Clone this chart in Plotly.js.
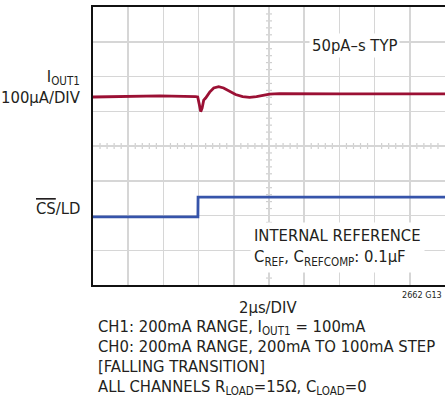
<!DOCTYPE html>
<html>
<head>
<meta charset="utf-8">
<script src="https://cdn.plot.ly/plotly-3.0.1.min.js"></script>
<style>html,body{margin:0;padding:0;background:#fff;}#chart{width:445px;height:410px;}</style>
</head>
<body>
<div id="chart"></div>
<script>
// Time in microseconds (2 µs/DIV, 10 divisions)
const ioutTime = [0, 2.10, 3.80, 5.84, 5.95, 6.03, 6.12, 6.20, 6.29, 6.40, 6.63, 6.86, 7.14, 7.42, 7.76, 8.10, 8.50, 8.90, 9.29, 9.63, 10.03, 10.59, 11.73, 14.00, 16.26, 18.53, 20];
// I_OUT1 trace position in screen divisions (0 = bottom, 8 = top)
const ioutDiv  = [5.41, 5.42, 5.44, 5.42, 5.41, 5.22, 4.99, 5.09, 5.32, 5.38, 5.55, 5.67, 5.71, 5.67, 5.58, 5.48, 5.42, 5.40, 5.42, 5.45, 5.49, 5.51, 5.50, 5.50, 5.50, 5.50, 5.50];
// CS/LD trace
const csTime = [0, 5.96, 5.97, 20];
const csDiv  = [1.96, 1.96, 2.53, 2.53];

const FONT = '"Liberation Sans Narrow", "DejaVu Sans Condensed", "Liberation Sans", sans-serif';
const TXT = '#231f20';

const traces = [
  {x: ioutTime, y: ioutDiv, mode: 'lines', line: {color: '#9b1034', width: 2.8}, hoverinfo: 'skip'},
  {x: csTime, y: csDiv, mode: 'lines', line: {color: '#3654aa', width: 2.8}, hoverinfo: 'skip'}
];

// center-line minor ticks
const shapes = [];
for (let i = 1; i < 50; i++) {
  const xv = i * 0.4;
  if (Math.abs(xv - 10) < 1e-6 || Math.abs(xv / 2 - Math.round(xv / 2)) < 1e-6) continue;
  shapes.push({type: 'line', xref: 'x', yref: 'y', ysizemode: 'pixel', yanchor: 4, y0: -3, y1: 3, x0: xv, x1: xv, line: {color: '#cfcfcf', width: 1.2}, layer: 'below'});
}
for (let i = 1; i < 40; i++) {
  const yv = i * 0.2;
  if (Math.abs(yv - Math.round(yv)) < 1e-6) continue;
  shapes.push({type: 'line', xref: 'x', yref: 'y', xsizemode: 'pixel', xanchor: 10, x0: -3, x1: 3, y0: yv, y1: yv, line: {color: '#cfcfcf', width: 1.2}, layer: 'below'});
}

const ann = (text, x, y, xanchor, size, extra) => Object.assign({text, x, y, xref: 'paper', yref: 'paper', xanchor, yanchor: 'middle', showarrow: false, font: {family: FONT, size, color: TXT}}, extra || {});

// paper coords helper: plot area x 93..445 (352px), y 7..285 (278px)
const px = v => (v - 93) / 352;
const py = v => (285 - v) / 278;

const annotations = [
  ann('50pA–s TYP', px(354), py(45), 'center', 16.5, {bgcolor: '#fff', borderpad: 2}),
  ann('INTERNAL REFERENCE<br>C<sub>REF</sub>, C<sub>REFCOMP</sub>: 0.1µF', px(250), py(248), 'left', 16.5, {bgcolor: '#fff', borderpad: 3, align: 'left'}),
  ann('I<sub>OUT1</sub><br>100µA/DIV', px(83), py(87), 'right', 16.5, {align: 'right'}),
  ann('<span style="text-decoration:overline">CS</span>/LD', px(83), py(209), 'right', 16.5),
  ann('2µs/DIV', px(268), py(307), 'center', 16.5),
  ann('2662 G13', px(444), py(295), 'right', 9),
  ann('CH1: 200mA RANGE, I<sub>OUT1</sub> = 100mA', px(96), py(327), 'left', 16.5),
  ann('CH0: 200mA RANGE, 200mA TO 100mA STEP', px(96), py(346), 'left', 16.5),
  ann('[FALLING TRANSITION]', px(96), py(366), 'left', 16.5),
  ann('ALL CHANNELS R<sub>LOAD</sub>=15Ω, C<sub>LOAD</sub>=0', px(96), py(387), 'left', 16.5)
];

const layout = {
  width: 445, height: 410,
  margin: {l: 93, r: 0, t: 7, b: 125, pad: 0},
  paper_bgcolor: '#fff', plot_bgcolor: '#fff',
  showlegend: false,
  xaxis: {range: [0, 20], dtick: 2, tick0: 0, showgrid: true, gridcolor: '#d6d6d6', gridwidth: 1.5,
          zeroline: false, showticklabels: false, ticks: '', showline: true, mirror: true, linecolor: '#111', linewidth: 2, fixedrange: true},
  yaxis: {range: [0, 8], dtick: 1, tick0: 0, showgrid: true, gridcolor: '#d6d6d6', gridwidth: 1.5,
          zeroline: false, showticklabels: false, ticks: '', showline: true, linecolor: '#111', linewidth: 2, fixedrange: true},
  shapes, annotations
};

Plotly.newPlot('chart', traces, layout, {displayModeBar: false, staticPlot: true});
</script>
</body>
</html>
